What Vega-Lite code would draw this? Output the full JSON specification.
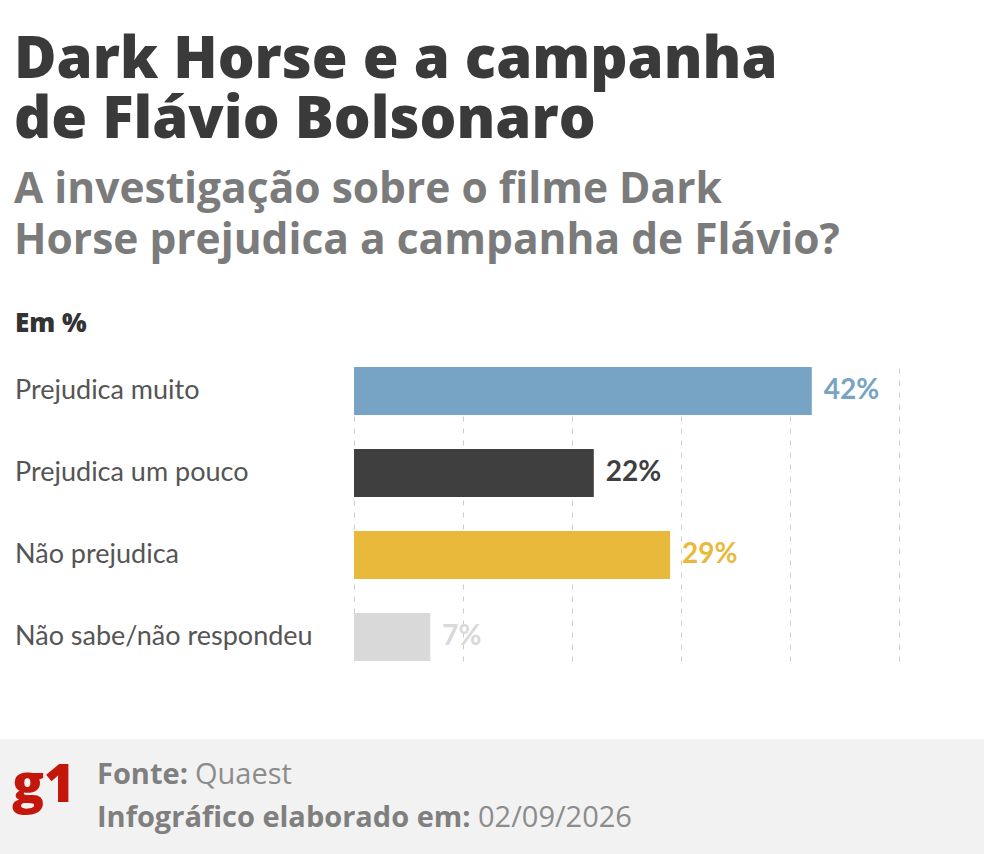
{
  "$schema": "https://vega.github.io/schema/vega-lite/v6.json",
  "background": "white",
  "padding": {"left": 0, "top": 31, "right": 0, "bottom": 0},
  "autosize": {"type": "pad"},
  "title": {
    "text": ["Dark Horse e a campanha", "de Flávio Bolsonaro"],
    "subtitle": ["A investigação sobre o filme Dark", "Horse prejudica a campanha de Flávio?"],
    "anchor": "start",
    "frame": "group",
    "dx": 14,
    "font": "Open Sans",
    "fontSize": 58,
    "fontWeight": 800,
    "color": "#3a3a3a",
    "lineHeight": 60,
    "subtitleFont": "Open Sans",
    "subtitleFontSize": 42.5,
    "subtitleFontWeight": 700,
    "subtitleColor": "#7b7b7b",
    "subtitleLineHeight": 51,
    "subtitlePadding": 19,
    "offset": 49
  },
  "data": {
    "values": [
      {"resposta": "Prejudica muito", "valor": 42},
      {"resposta": "Prejudica um pouco", "valor": 22},
      {"resposta": "Não prejudica", "valor": 29},
      {"resposta": "Não sabe/não respondeu", "valor": 7}
    ]
  },
  "spacing": 78,
  "vconcat": [
    {
      "hconcat": [
        {
          "width": 354,
          "height": 294,
          "title": {"text": "Em %", "anchor": "start", "frame": "group", "dx": 15, "font": "Open Sans", "fontSize": 26, "fontWeight": 800, "color": "#333333", "offset": 30},
          "mark": {"type": "text", "align": "left", "baseline": "middle", "font": "Lato", "fontSize": 27, "color": "#555555", "x": 0, "dx": 15},
          "encoding": {
            "y": {"field": "resposta", "type": "nominal", "sort": null, "axis": null, "scale": {"type": "band", "paddingInner": 0.415, "paddingOuter": 0}},
            "text": {"field": "resposta"}
          }
        },
        {
          "width": 545,
          "height": 294,
          "encoding": {
            "y": {"field": "resposta", "type": "nominal", "sort": null, "axis": null, "scale": {"type": "band", "paddingInner": 0.415, "paddingOuter": 0}},
            "x": {
              "field": "valor",
              "type": "quantitative",
              "scale": {"domain": [0, 50], "nice": false},
              "axis": {"values": [0, 10, 20, 30, 40, 50], "grid": true, "gridDash": [5, 7], "gridColor": "#cccccc", "gridWidth": 1, "labels": false, "ticks": false, "domain": false, "title": null}
            },
            "color": {
              "field": "resposta",
              "type": "nominal",
              "legend": null,
              "scale": {
                "domain": ["Prejudica muito", "Prejudica um pouco", "Não prejudica", "Não sabe/não respondeu"],
                "range": ["#77a3c4", "#3f3f3f", "#e9b93b", "#d9d9d9"]
              }
            }
          },
          "layer": [
            {"mark": {"type": "bar"}},
            {
              "transform": [{"calculate": "datum.valor + '%'", "as": "rotulo"}],
              "mark": {"type": "text", "align": "left", "baseline": "middle", "dx": 12, "font": "Lato", "fontWeight": 700, "fontSize": 28},
              "encoding": {"text": {"field": "rotulo"}}
            }
          ]
        }
      ],
      "spacing": 0,
      "bounds": "flush"
    },
    {
      "width": 984,
      "height": 115,
      "view": {"fill": "#f2f2f2", "stroke": null},
      "data": {
        "values": [
          {"linha": "1", "negrito": "Fonte:", "regular": "Quaest"},
          {"linha": "2", "negrito": "Infográfico elaborado em:", "regular": "02/09/2026"}
        ]
      },
      "layer": [
        {
          "mark": {"type": "text", "align": "left", "baseline": "middle", "font": "Open Sans", "fontWeight": 700, "fontSize": 29, "color": "#7f7f7f", "x": 97},
          "encoding": {
            "y": {"field": "linha", "type": "ordinal", "axis": null, "scale": {"type": "band", "paddingOuter": 0.35, "paddingInner": 0}},
            "text": {"field": "negrito"}
          }
        },
        {
          "transform": [{"filter": "datum.linha == '1'"}],
          "mark": {"type": "text", "align": "left", "baseline": "middle", "font": "Open Sans", "fontWeight": 400, "fontSize": 29, "color": "#8c8c8c", "x": 97, "dx": 98},
          "encoding": {
            "y": {"field": "linha", "type": "ordinal", "axis": null},
            "text": {"field": "regular"}
          }
        },
        {
          "transform": [{"filter": "datum.linha == '2'"}],
          "mark": {"type": "text", "align": "left", "baseline": "middle", "font": "Open Sans", "fontWeight": 400, "fontSize": 29, "color": "#8c8c8c", "x": 97, "dx": 381},
          "encoding": {
            "y": {"field": "linha", "type": "ordinal", "axis": null},
            "text": {"field": "regular"}
          }
        },
        {
          "data": {"values": [{"logo": "g1"}]},
          "mark": {"type": "text", "align": "left", "baseline": "middle", "font": "Open Sans", "fontWeight": 800, "fontSize": 53, "color": "#c4170c", "letterSpacing": -4, "x": 12, "dy": -11},
          "encoding": {"text": {"field": "logo"}}
        }
      ]
    }
  ],
  "config": {"view": {"stroke": null}}
}
